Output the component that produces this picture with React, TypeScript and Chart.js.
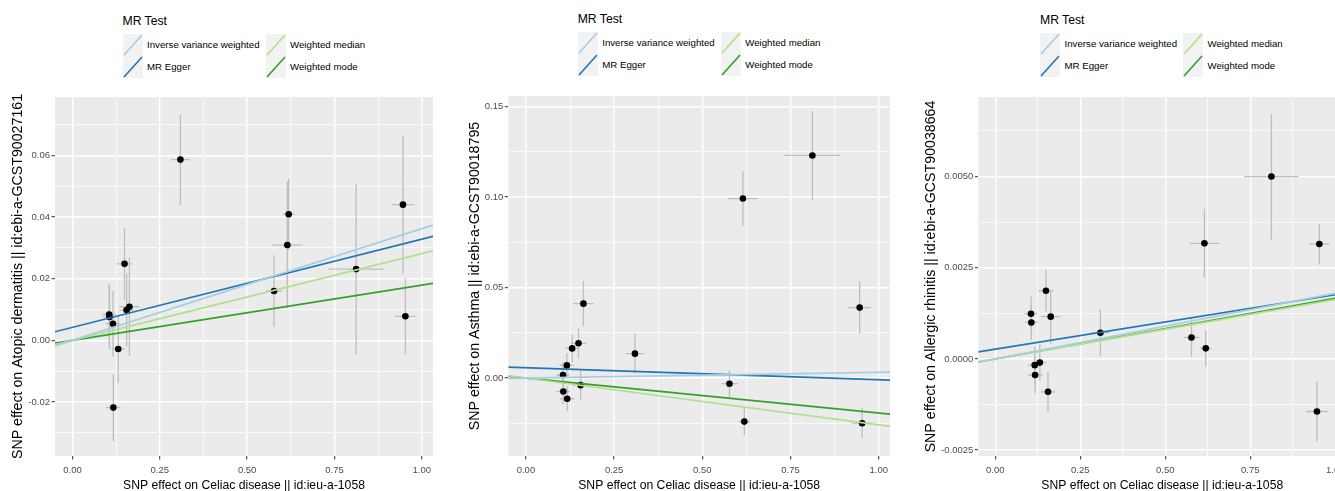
import React, { useEffect, useRef } from "react";
import { Chart, registerables } from "chart.js";

Chart.register(...registerables);

const FONT = '"Liberation Sans", Arial, Helvetica, sans-serif';

// SNP effects on the exposure (Celiac disease), same 15 SNPs in every panel
const celiacBeta = [0.105, 0.106, 0.116, 0.117, 0.131, 0.149, 0.155, 0.163, 0.309, 0.577, 0.615, 0.619, 0.812, 0.946, 0.953];
const celiacSe = [0.019, 0.019, 0.021, 0.021, 0.019, 0.022, 0.021, 0.029, 0.027, 0.023, 0.043, 0.017, 0.08, 0.032, 0.03];

// Outcome 1: Atopic dermatitis
const atopicBeta = [0.0084, 0.0076, 0.0054, -0.0218, -0.0028, 0.0248, 0.0098, 0.0109, 0.0586, 0.016, 0.0309, 0.0409, 0.0231, 0.044, 0.0078];
const atopicSe = [0.01, 0.0106, 0.0106, 0.0108, 0.011, 0.0116, 0.0118, 0.016, 0.0147, 0.0116, 0.0205, 0.0115, 0.0277, 0.0224, 0.0124];

// Outcome 2: Asthma
const asthmaBeta = [0.0017, -0.0074, 0.007, -0.0114, 0.0164, 0.0192, -0.0039, 0.0411, 0.0135, -0.0031, 0.0991, -0.024, 0.1229, 0.0389, -0.0249];
const asthmaSe = [0.0069, 0.007, 0.0069, 0.0069, 0.0077, 0.0083, 0.008, 0.0126, 0.011, 0.0076, 0.015, 0.0074, 0.0244, 0.0146, 0.0083];

// Outcome 3: Allergic rhinitis
const rhinitisBeta = [0.00124, 0.001, -0.00017, -0.00044, -0.0001, 0.00187, -0.0009, 0.00116, 0.00072, 0.00059, 0.00317, 0.00029, 0.005, -0.00144, 0.00315];
const rhinitisSe = [0.00047, 0.00048, 0.0005, 0.0005, 0.0005, 0.00056, 0.00054, 0.00074, 0.00064, 0.00053, 0.00095, 0.0005, 0.00173, 0.00082, 0.00056];

// MR methods (order: IVW, MR Egger, Weighted median, Weighted mode)
const mrMethods = ["Inverse variance weighted", "MR Egger", "Weighted median", "Weighted mode"];
const mrColors = ["#a6cee3", "#1f78b4", "#b2df8a", "#33a02c"];
const atopicIntercepts = [0, 0.0042, 0, 0];
const atopicSlopes = [0.0362, 0.0286, 0.0281, 0.0179];
const asthmaIntercepts = [0, 0.00575, 0, 0];
const asthmaSlopes = [0.0032, -0.00665, -0.0258, -0.0193];
const rhinitisIntercepts = [0, 0.00027, 0, 0];
const rhinitisSlopes = [0.0018, 0.00149, 0.00163, 0.00166];

// Tick labels
const xTicks = [0, 0.25, 0.5, 0.75, 1.0];
const atopicYTicks = [-0.02, 0, 0.02, 0.04, 0.06];
const asthmaYTicks = [0, 0.05, 0.1, 0.15];
const rhinitisYTicks = [-0.0025, 0, 0.0025, 0.005];

const xTitle = "SNP effect on Celiac disease || id:ieu-a-1058";
const legendTitle = "MR Test";

const X_MIN = -0.05;
const X_MAX = 1.032;
const CANVAS_TOP = 88;
const CANVAS_HEIGHT = 412;
const CHART_BOTTOM = 456;
const Y_TITLE_SIZE = 14.2;

type Panel = {
  yTitle: string;
  beta: number[];
  se: number[];
  intercepts: number[];
  slopes: number[];
  yTicks: number[];
  yMin: number;
  yMax: number;
  decimals: number;
  canvasLeft: number;
  canvasWidth: number;
  chartLeft: number;
  chartRight: number;
  chartTop: number;
  yTitleCenter: number;
  legendLeft: number;
  legendTitleCenter: number;
  legendRowsTop: number;
};

const panels: Panel[] = [
  {
    yTitle: "SNP effect on Atopic dermatitis || id:ebi-a-GCST90027161",
    beta: atopicBeta, se: atopicSe, intercepts: atopicIntercepts, slopes: atopicSlopes,
    yTicks: atopicYTicks, yMin: -0.0375, yMax: 0.0789, decimals: 2,
    canvasLeft: 0, canvasWidth: 445, chartLeft: 55, chartRight: 433, chartTop: 97,
    yTitleCenter: 18.3, legendLeft: 122.5, legendTitleCenter: 20.7, legendRowsTop: 34,
  },
  {
    yTitle: "SNP effect on Asthma || id:ebi-a-GCST90018795",
    beta: asthmaBeta, se: asthmaSe, intercepts: asthmaIntercepts, slopes: asthmaSlopes,
    yTicks: asthmaYTicks, yMin: -0.043, yMax: 0.1557, decimals: 2,
    canvasLeft: 445, canvasWidth: 452, chartLeft: 508.3, chartRight: 890, chartTop: 96,
    yTitleCenter: 475, legendLeft: 577.7, legendTitleCenter: 19, legendRowsTop: 32,
  },
  {
    yTitle: "SNP effect on Allergic rhinitis || id:ebi-a-GCST90038664",
    beta: rhinitisBeta, se: rhinitisSe, intercepts: rhinitisIntercepts, slopes: rhinitisSlopes,
    yTicks: rhinitisYTicks, yMin: -0.00266, yMax: 0.00718, decimals: 4,
    canvasLeft: 890, canvasWidth: 470, chartLeft: 978.3, chartRight: 1346.2, chartTop: 97,
    yTitleCenter: 930.7, legendLeft: 1040, legendTitleCenter: 20, legendRowsTop: 33,
  },
];

function withMinors(majors: number[], min: number, max: number): number[] {
  const step = majors[1] - majors[0];
  const all: number[] = [];
  for (let v = majors[0] - step; v <= majors[majors.length - 1] + step + 1e-12; v += step / 2) {
    const r = Math.round(v / (step / 2)) * (step / 2);
    if (r >= min - 1e-12 && r <= max + 1e-12) all.push(r);
  }
  return all;
}

function isIn(list: number[], v: number): boolean {
  return list.some((m) => Math.abs(m - v) < 1e-9);
}

const panelBg = {
  id: "panelBg",
  beforeDraw(chart: any) {
    const { ctx, chartArea } = chart;
    ctx.save();
    ctx.fillStyle = "#ebebeb";
    ctx.fillRect(chartArea.left, chartArea.top, chartArea.right - chartArea.left, chartArea.bottom - chartArea.top);
    ctx.restore();
  },
};

function PanelChart({ p }: { p: Panel }) {
  const ref = useRef<HTMLCanvasElement | null>(null);

  useEffect(() => {
    if (!ref.current) return;

    const points = celiacBeta.map((x, i) => ({ x, y: p.beta[i] }));
    const hBars: any[] = [];
    const vBars: any[] = [];
    celiacBeta.forEach((x, i) => {
      const y = p.beta[i];
      hBars.push({ x: x - celiacSe[i], y }, { x: x + celiacSe[i], y }, { x: x + celiacSe[i], y: null });
      vBars.push({ x, y: y - p.se[i] }, { x, y: y + p.se[i] }, { x, y: null });
    });

    const lineSets = mrMethods.map((m, k) => ({
      label: m,
      data: [
        { x: X_MIN, y: p.intercepts[k] + p.slopes[k] * X_MIN },
        { x: X_MAX, y: p.intercepts[k] + p.slopes[k] * X_MAX },
      ],
      showLine: true,
      borderColor: mrColors[k],
      borderWidth: 1.7,
      pointRadius: 0,
      order: 0,
    }));

    const xAll = withMinors(xTicks, X_MIN, X_MAX);
    const yAll = withMinors(p.yTicks, p.yMin, p.yMax);

    const gridWidth = (majors: number[]) => (ctx: any) =>
      ctx.tick && isIn(majors, ctx.tick.value) ? 1.4 : 0.7;
    const tickCol = (majors: number[]) => (ctx: any) =>
      ctx.tick && isIn(majors, ctx.tick.value) ? "#333333" : "rgba(0,0,0,0)";

    const chart = new Chart(ref.current, {
      type: "scatter",
      data: {
        datasets: [
          ...lineSets,
          {
            label: "points",
            data: points,
            pointRadius: 3.3,
            pointBackgroundColor: "#000000",
            pointBorderWidth: 0,
            order: 1,
          },
          {
            label: "hbars",
            data: hBars,
            showLine: true,
            spanGaps: false,
            borderColor: "#bebebe",
            borderWidth: 1.3,
            pointRadius: 0,
            order: 2,
          },
          {
            label: "vbars",
            data: vBars,
            showLine: true,
            spanGaps: false,
            borderColor: "#bebebe",
            borderWidth: 1.3,
            pointRadius: 0,
            order: 2,
          },
        ] as any,
      },
      options: {
        responsive: false,
        animation: false,
        events: [],
        layout: {
          padding: {
            top: p.chartTop - CANVAS_TOP,
            left: 0,
            right: p.canvasLeft + p.canvasWidth - p.chartRight,
            bottom: 0,
          },
        },
        plugins: {
          legend: { display: false },
          tooltip: { enabled: false },
        },
        scales: {
          x: {
            type: "linear",
            position: "bottom",
            min: X_MIN,
            max: X_MAX,
            afterBuildTicks: (s: any) => {
              s.ticks = xAll.map((v) => ({ value: v }));
            },
            afterFit: (s: any) => {
              s.height = CANVAS_TOP + CANVAS_HEIGHT - CHART_BOTTOM;
            },
            ticks: {
              autoSkip: false,
              maxRotation: 0,
              minRotation: 0,
              padding: 5.5,
              color: "#4d4d4d",
              font: { family: FONT, size: 9.5 },
              callback: (v: any) => (isIn(xTicks, Number(v)) ? Number(v).toFixed(2) : ""),
            },
            grid: {
              color: "#ffffff",
              lineWidth: gridWidth(xTicks),
              drawTicks: true,
              tickLength: 3.5,
              tickWidth: 1,
              tickColor: tickCol(xTicks),
            },
            border: { display: false },
            title: {
              display: true,
              text: xTitle,
              color: "#000000",
              font: { family: FONT, size: 12.2, lineHeight: 1.2 },
              padding: { top: 0, bottom: 7.5 },
            },
          },
          y: {
            type: "linear",
            position: "left",
            min: p.yMin,
            max: p.yMax,
            afterBuildTicks: (s: any) => {
              s.ticks = yAll.map((v) => ({ value: v }));
            },
            afterFit: (s: any) => {
              s.width = p.chartLeft - p.canvasLeft;
            },
            ticks: {
              autoSkip: false,
              padding: 1.5,
              color: "#4d4d4d",
              font: { family: FONT, size: 9.5 },
              callback: (v: any) => (isIn(p.yTicks, Number(v)) ? Number(v).toFixed(p.decimals) : ""),
            },
            grid: {
              color: "#ffffff",
              lineWidth: gridWidth(p.yTicks),
              drawTicks: true,
              tickLength: 3.5,
              tickWidth: 1,
              tickColor: tickCol(p.yTicks),
            },
            border: { display: false },
            title: {
              display: true,
              text: p.yTitle,
              color: "#000000",
              font: { family: FONT, size: Y_TITLE_SIZE, lineHeight: 1.2 },
              padding: { top: p.yTitleCenter - p.canvasLeft - (Y_TITLE_SIZE * 1.2) / 2, bottom: 0 },
            },
          },
        },
      } as any,
      plugins: [panelBg],
    });

    return () => chart.destroy();
  }, [p]);

  return (
    <canvas
      ref={ref}
      width={p.canvasWidth}
      height={CANVAS_HEIGHT}
      style={{
        position: "absolute",
        left: p.canvasLeft,
        top: CANVAS_TOP,
        width: p.canvasWidth,
        height: CANVAS_HEIGHT,
      }}
    />
  );
}

function Legend({ p }: { p: Panel }) {
  const cols = [0, 143];
  const rows = [0, 22];
  const order = [
    [0, 2],
    [1, 3],
  ];
  const items: React.ReactNode[] = [];
  order.forEach((row, ri) =>
    row.forEach((k, ci) => {
      const left = p.legendLeft + cols[ci];
      const top = p.legendRowsTop + rows[ri];
      items.push(
        <div
          key={`k${k}`}
          style={{ position: "absolute", left, top, width: 20, height: 22, background: "#f2f2f2" }}
        >
          <svg width={20} height={22} style={{ display: "block" }}>
            <line x1={1} y1={21} x2={19} y2={1} stroke={mrColors[k]} strokeWidth={1.6} />
          </svg>
        </div>,
        <div
          key={`t${k}`}
          style={{
            position: "absolute",
            left: left + 24.5,
            top,
            height: 22,
            lineHeight: "22px",
            fontSize: 9.7,
            fontFamily: FONT,
            color: "#000",
            whiteSpace: "nowrap",
          }}
        >
          {mrMethods[k]}
        </div>
      );
    })
  );
  return (
    <>
      <div
        style={{
          position: "absolute",
          left: p.legendLeft,
          top: p.legendTitleCenter - 7,
          height: 14,
          lineHeight: "14px",
          fontSize: 12.2,
          fontFamily: FONT,
          color: "#000",
          whiteSpace: "nowrap",
        }}
      >
        {legendTitle}
      </div>
      {items}
    </>
  );
}

export default function App() {
  return (
    <div
      style={{
        position: "absolute",
        left: 0,
        top: 0,
        width: 1335,
        height: 491,
        overflow: "hidden",
        background: "#ffffff",
      }}
    >
      {panels.map((p, i) => (
        <PanelChart key={`c${i}`} p={p} />
      ))}
      {panels.map((p, i) => (
        <Legend key={`l${i}`} p={p} />
      ))}
    </div>
  );
}
